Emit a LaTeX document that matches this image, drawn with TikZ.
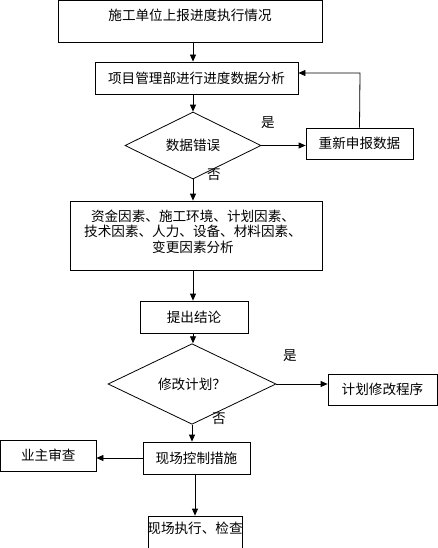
\documentclass[tikz,border=0pt]{standalone}
\usepackage{fontspec}
\newfontfamily\cjk{Noto Sans CJK SC}
\usetikzlibrary{shapes.geometric,arrows.meta}
\begin{document}
\begin{tikzpicture}[x=1pt,y=-1pt,
  every node/.style={font=\cjk\fontsize{13.6}{15.5}\selectfont, inner sep=0pt},
  box/.style={draw, line width=0.8pt, rectangle},
  dia/.style={draw, line width=0.8pt, diamond, aspect=3},
  arr/.style={line width=0.8pt, -{Triangle[length=7pt,width=6pt]}},
  lab/.style={}]
\useasboundingbox (0,0) rectangle (438,548);
\fill[white] (0,0) rectangle (438,548);
% boxes
\node[box, minimum width=264pt, minimum height=42pt] (b1) at (190,21) {};
\node (t1) at (190,15) {施工单位上报进度执行情况};
\node[box, minimum width=203pt, minimum height=32pt] (b2) at (196.5,78) {项目管理部进行进度数据分析};
\node[draw, line width=0.8pt, shape=diamond, minimum width=136pt, minimum height=41pt, inner sep=0pt] (d1) at (193,145.5) {数据错误};
\node[box, minimum width=107pt, minimum height=31pt] (b3) at (359.5,143.5) {重新申报数据};
\node[box, minimum width=252pt, minimum height=69pt] (b4) at (196,235.5) {};
\node[align=center] (t4) at (193,231.5) {资金因素、施工环境、计划因素、\\技术因素、人力、设备、材料因素、\\变更因素分析};
\node[box, minimum width=108pt, minimum height=32pt] (b5) at (194,317) {提出结论};
\node[draw, line width=0.8pt, shape=diamond, minimum width=168pt, minimum height=42pt, inner sep=0pt] (d2) at (192,384) {修改计划？};
\node[box, minimum width=109pt, minimum height=31pt] (b6) at (382.5,389.5) {计划修改程序};
\node[box, minimum width=107pt, minimum height=32pt] (b7) at (196.5,458) {现场控制措施};
\node[box, minimum width=95.5pt, minimum height=31pt] (b8) at (48.25,455.5) {业主审查};
\node[box, minimum width=94pt, minimum height=40pt] (b9) at (195,536) {};
\node (t9) at (195,528) {现场执行、检查};
% labels
\node[lab] (l1) at (268,123) {是};
\node[lab] (l2) at (214,175) {否};
\node[lab] (l3) at (290,356) {是};
\node[lab] (l4) at (219,419) {否};
% connectors
\draw[arr] (b1.south -| d1) -- (b2.north -| d1);
\draw[arr] (b2.south -| d1) -- (d1.north);
\draw[arr] (d1.east) -- (d1.east -| b3.west);
\coordinate (loop) at (360,73);
\draw[arr] (b3.north) -- (loop) -- (loop -| b2.east);
\draw[arr] (d1.south) -- (b4.north -| d1);
\draw[arr] (b4.south -| d1) -- (b5.north -| d1);
\draw[arr] (b5.south -| d1) -- (d2.north -| d1);
\draw[arr] (d2.east) -- (d2.east -| b6.west);
\draw[arr] (d2.south) -- (b7.north -| d2);
\draw[arr] (b7.west) -- (b7.west -| b8.east);
\draw[arr] (b7.south -| b9) -- (b9.north);
\end{tikzpicture}
\end{document}
